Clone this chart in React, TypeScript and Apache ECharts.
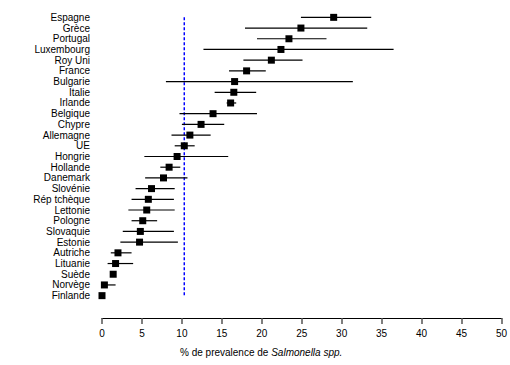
import React, { useEffect, useRef } from "react";
import * as echarts from "echarts";

const countries = [
  "Espagne", "Grèce", "Portugal", "Luxembourg", "Roy Uni", "France", "Bulgarie", "Italie", "Irlande",
  "Belgique", "Chypre", "Allemagne", "UE", "Hongrie", "Hollande", "Danemark", "Slovénie", "Rép tchèque",
  "Lettonie", "Pologne", "Slovaquie", "Estonie", "Autriche", "Lituanie", "Suède", "Norvège", "Finlande",
];
const values = [29.0, 24.9, 23.4, 22.4, 21.2, 18.1, 16.6, 16.5, 16.1, 13.9, 12.4, 11.0, 10.3, 9.4, 8.4, 7.7, 6.2, 5.8, 5.6, 5.1, 4.8, 4.7, 2.0, 1.7, 1.4, 0.3, 0.0];
const lows = [24.9, 17.9, 19.4, 12.7, 17.7, 15.9, 8.0, 14.1, 15.6, 9.7, 10.0, 8.7, 9.1, 5.3, 7.3, 5.4, 4.2, 3.7, 3.3, 3.7, 2.6, 2.3, 1.1, 0.7, 1.4, 0.0, 0.0];
const highs = [33.7, 33.2, 28.1, 36.5, 25.1, 20.5, 31.4, 19.3, 16.8, 19.4, 15.3, 13.6, 11.6, 15.8, 9.8, 10.7, 9.1, 9.0, 9.1, 6.9, 9.0, 9.5, 3.7, 3.9, 1.4, 1.7, 0.0];
const xTicks = { min: 0, max: 50, interval: 5 };
const axisTitle = "% de prevalence de ";
const axisTitleItalic = "Salmonella spp.";

const FONT = "'Liberation Sans', Arial, sans-serif";

export default function App() {
  const ref = useRef<HTMLDivElement>(null);
  useEffect(() => {
    if (!ref.current) return;
    const chart = echarts.init(ref.current, null, { renderer: "svg" });
    const ueValue = values[countries.indexOf("UE")];
    chart.setOption({
      animation: false,
      textStyle: { fontFamily: FONT },
      grid: { left: 102, right: 5, top: 12, bottom: 64, containLabel: false },
      xAxis: {
        type: "value",
        min: xTicks.min,
        max: xTicks.max,
        interval: xTicks.interval,
        position: "bottom",
        offset: 17,
        axisLine: { show: true, lineStyle: { color: "#000", width: 1 } },
        axisTick: { show: true, length: 6, lineStyle: { color: "#555", width: 1.5 } },
        axisLabel: { color: "#000", fontSize: 10, margin: 10, fontFamily: FONT },
        splitLine: { show: false },
      },
      yAxis: {
        type: "category",
        data: countries,
        inverse: true,
        axisLine: { show: false },
        axisTick: { show: false },
        axisLabel: { color: "#000", fontSize: 10, margin: 12, fontFamily: FONT, interval: 0 },
        splitLine: { show: false },
      },
      graphic: [
        {
          type: "text",
          left: 180,
          top: 347,
          style: {
            text: axisTitle + "{i|" + axisTitleItalic + "}",
            font: "10px " + FONT,
            fill: "#000",
            rich: { i: { fontStyle: "italic", fontSize: 10, fontFamily: FONT, fill: "#000" } },
          },
        },
      ],
      series: [
        {
          type: "line",
          data: [[ueValue, countries[0]], [ueValue, countries[countries.length - 1]]],
          symbol: "none",
          lineStyle: { color: "#0000ff", width: 1.5, type: [3, 2] },
          z: 1,
        },
        {
          type: "custom",
          data: countries.map((c, i) => [lows[i], highs[i], i]),
          encode: { x: [0, 1], y: 2 },
          renderItem: (params: any, api: any) => {
            const idx = api.value(2);
            const p1 = api.coord([api.value(0), countries[idx]]);
            const p2 = api.coord([api.value(1), countries[idx]]);
            return {
              type: "line",
              shape: { x1: p1[0], y1: p1[1], x2: p2[0], y2: p2[1] },
              style: { stroke: "#000", lineWidth: 1.2 },
            };
          },
          z: 2,
        },
        {
          type: "scatter",
          data: countries.map((c, i) => [values[i], c]),
          symbol: "rect",
          symbolSize: 7,
          itemStyle: { color: "#000", opacity: 1 },
          z: 3,
        },
      ],
    });
    return () => chart.dispose();
  }, []);
  return (
    <div
      ref={ref}
      style={{ position: "fixed", left: 0, top: 0, width: 510, height: 365, background: "#fff" }}
    />
  );
}
